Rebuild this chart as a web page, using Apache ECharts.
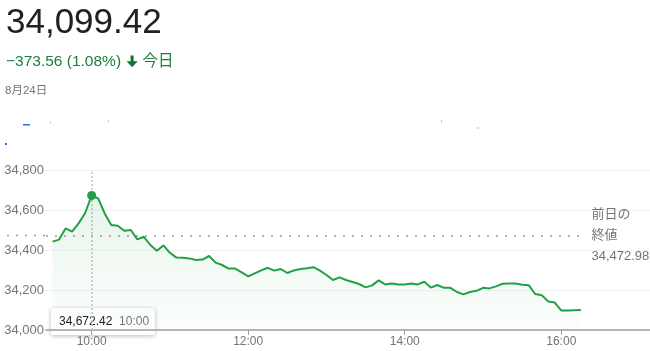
<!DOCTYPE html>
<html>
<head>
<meta charset="utf-8">
<script src="https://cdn.jsdelivr.net/npm/echarts@6/dist/echarts.min.js"></script>
<style>
  html, body { margin: 0; padding: 0; background: #fff; }
  #chart { width: 650px; height: 351px; }
</style>
</head>
<body>
<div id="chart"></div>
<script>
// 5-minute prices for the day
const times = [
  '9:30', '9:35', '9:40', '9:45', '9:50', '9:55',
  '10:00', '10:05', '10:10', '10:15', '10:20', '10:25', '10:30', '10:35', '10:40', '10:45', '10:50', '10:55',
  '11:00', '11:05', '11:10', '11:15', '11:20', '11:25', '11:30', '11:35', '11:40', '11:45', '11:50', '11:55',
  '12:00', '12:05', '12:10', '12:15', '12:20', '12:25', '12:30', '12:35', '12:40', '12:45', '12:50', '12:55',
  '13:00', '13:05', '13:10', '13:15', '13:20', '13:25', '13:30', '13:35', '13:40', '13:45', '13:50', '13:55',
  '14:00', '14:05', '14:10', '14:15', '14:20', '14:25', '14:30', '14:35', '14:40', '14:45', '14:50', '14:55',
  '15:00', '15:05', '15:10', '15:15', '15:20', '15:25', '15:30', '15:35', '15:40', '15:45', '15:50', '15:55',
  '16:00', '16:05', '16:10', '16:15'
]
const values = [
  34442, 34452, 34508, 34492, 34533, 34585,
  34672.42, 34658, 34583, 34525, 34521, 34496, 34500, 34453, 34466, 34425, 34396, 34423,
  34386, 34362, 34361, 34358, 34350, 34352, 34370, 34337, 34325, 34307, 34307, 34288,
  34268, 34283, 34298, 34311, 34297, 34305, 34285, 34298, 34305, 34309, 34314, 34297,
  34275, 34250, 34263, 34250, 34240, 34230, 34213, 34223, 34248, 34228, 34233, 34228,
  34228, 34232, 34228, 34241, 34212, 34225, 34211, 34211, 34190, 34178, 34190, 34196,
  34211, 34208, 34218, 34231, 34232, 34232, 34226, 34224, 34180, 34174, 34143, 34137,
  34097, 34098, 34099, 34099.42
]
const xTickLabels = ['10:00', '12:00', '14:00', '16:00']
const yTicks = [34000, 34200, 34400, 34600, 34800]
const prevClose = 34472.98
const highlightTime = '10:00'

const priceText = '34,099.42'
const changeText = '−373.56 (1.08%)'
const dateText = '8月24日'

const FONT = 'Arial, "Liberation Sans", "Noto Sans CJK JP", sans-serif'
const grey = '#70757a'
const green = '#22a046'

const toMin = s => {
  const p = s.split(':')
  return Number(p[0]) * 60 + Number(p[1])
}
const fmtTime = m => Math.floor(m / 60) + ':' + String(m % 60).padStart(2, '0')
const fmtNum = v => v.toLocaleString('en-US', { maximumFractionDigits: 2 })

const seriesData = times.map((t, i) => [toMin(t), values[i]])
const hiIdx = times.indexOf(highlightTime)
const xMin = 565
const xMax = 1028
const closeLineEnd = toMin('16:17')

const chart = echarts.init(document.getElementById('chart'))

const headerGraphics = [
  {
    type: 'text', x: 6, y: 23,
    style: { text: priceText, fontSize: 35, fontFamily: FONT, fill: '#202124', verticalAlign: 'middle' }
  },
  {
    type: 'text', x: 6, y: 62,
    style: { text: changeText, fontSize: 15.5, fontFamily: FONT, fill: '#188038', verticalAlign: 'middle' }
  },
  // down arrow icon
  { type: 'rect', shape: { x: 130.6, y: 55.5, width: 3, height: 7 }, style: { fill: '#137333' } },
  { type: 'polygon', shape: { points: [[126.6, 61.3], [137.6, 61.3], [132.1, 67.2]] }, style: { fill: '#137333' } },
  {
    type: 'text', x: 142.5, y: 62,
    style: { text: '今日', fontSize: 15.5, fontFamily: FONT, fill: '#188038', verticalAlign: 'middle' }
  },
  {
    type: 'text', x: 5, y: 91,
    style: { text: dateText, fontSize: 11.5, fontFamily: FONT, fill: grey, verticalAlign: 'middle' }
  },
  // small leftovers of the page UI above the chart
  { type: 'rect', shape: { x: 23, y: 124, width: 7, height: 1.5 }, style: { fill: '#1a73e8' } },
  { type: 'rect', shape: { x: 5, y: 143, width: 2, height: 2 }, style: { fill: '#1a73e8' } },
  { type: 'rect', shape: { x: 50, y: 121, width: 1, height: 3 }, style: { fill: '#d0d0d0' } },
  { type: 'rect', shape: { x: 108, y: 120, width: 1, height: 2.5 }, style: { fill: '#d0d0d0' } },
  { type: 'rect', shape: { x: 441, y: 120, width: 1, height: 3 }, style: { fill: '#d0d0d0' } },
  { type: 'rect', shape: { x: 477, y: 127.5, width: 2, height: 1 }, style: { fill: '#8ab4f8' } },
  // hover box for the highlighted point
  {
    type: 'group', x: 51, y: 308, z: 20,
    children: [
      {
        type: 'rect', shape: { x: 0, y: 0, width: 104, height: 27, r: 2 },
        style: { fill: '#fff', shadowBlur: 4, shadowOffsetY: 1, shadowColor: 'rgba(0,0,0,0.28)' }
      },
      {
        type: 'text', x: 8, y: 13.5,
        style: {
          text: '{v|' + fmtNum(values[hiIdx]) + '}  {t|' + highlightTime + '}',
          verticalAlign: 'middle',
          rich: {
            v: { fontSize: 12, fontFamily: FONT, fill: '#202124' },
            t: { fontSize: 12, fontFamily: FONT, fill: grey }
          }
        }
      }
    ]
  }
]

const option = {
  animation: false,
  grid: { left: 46, right: 0, top: 170, bottom: 21 },
  xAxis: {
    type: 'value',
    min: xMin,
    max: xMax,
    axisLine: { lineStyle: { color: '#9e9e9e', width: 1.5 } },
    axisTick: {
      customValues: xTickLabels.map(toMin),
      length: 5,
      lineStyle: { color: '#9e9e9e' }
    },
    axisLabel: {
      customValues: xTickLabels.map(toMin),
      formatter: v => fmtTime(v),
      color: grey,
      fontSize: 12,
      fontFamily: FONT,
      margin: 6
    },
    splitLine: { show: false }
  },
  yAxis: {
    type: 'value',
    min: yTicks[0],
    max: yTicks[yTicks.length - 1],
    interval: yTicks[1] - yTicks[0],
    axisLine: { show: false },
    axisTick: { show: false },
    axisLabel: {
      formatter: v => fmtNum(v),
      color: grey,
      fontSize: 13,
      fontFamily: FONT,
      margin: 2
    },
    splitLine: { lineStyle: { color: '#f1f1f1', width: 1 } }
  },
  series: [
    {
      type: 'line',
      data: seriesData,
      symbol: 'none',
      lineStyle: { color: green, width: 2 },
      areaStyle: {
        color: new echarts.graphic.LinearGradient(0, 0, 0, 1, [
          { offset: 0, color: 'rgba(34, 160, 70, 0.16)' },
          { offset: 1, color: 'rgba(34, 160, 70, 0.01)' }
        ])
      },
      markLine: {
        silent: true,
        symbol: 'none',
        animation: false,
        z: 1,
        data: [
          [
            {
              coord: [xMin, prevClose],
              lineStyle: { color: '#9a9a9a', type: [2, 7], width: 1.5 },
              label: {
                show: true,
                position: 'end',
                distance: 8,
                formatter: '前日の\n終値\n' + fmtNum(prevClose),
                color: grey,
                fontSize: 13,
                lineHeight: 21,
                fontFamily: FONT
              }
            },
            { coord: [closeLineEnd, prevClose] }
          ],
          {
            xAxis: toMin(highlightTime),
            lineStyle: { color: '#c2c2c2', type: [2, 2], width: 1.5 },
            label: { show: false }
          }
        ]
      },
      z: 2
    },
    {
      type: 'scatter',
      data: [seriesData[hiIdx]],
      symbolSize: 9,
      itemStyle: { color: green, opacity: 1 },
      silent: true,
      z: 10
    }
  ],
  graphic: headerGraphics
}

chart.setOption(option)

// the previous-close dots run on to the left edge, past the plot area
const p = chart.convertToPixel({ gridIndex: 0 }, [xMin, prevClose])
option.graphic = headerGraphics.concat([{
  type: 'line',
  shape: { x1: 7, y1: p[1], x2: p[0], y2: p[1] },
  style: { stroke: '#9a9a9a', lineWidth: 1.5, lineDash: [2, 7] },
  silent: true
}])
chart.setOption(option, true)
</script>
</body>
</html>
